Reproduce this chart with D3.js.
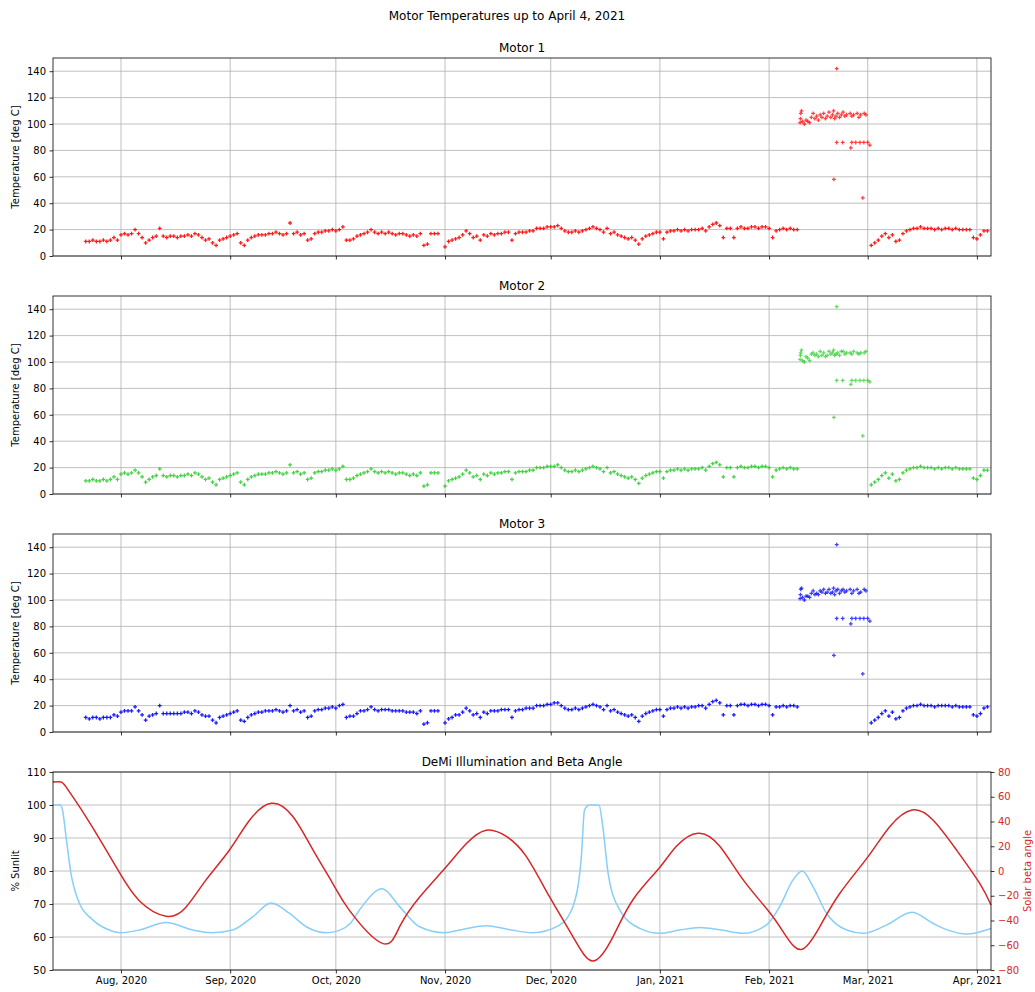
<!DOCTYPE html>
<html>
<head>
<meta charset="utf-8">
<script src="https://cdn.jsdelivr.net/npm/d3@7"></script>
<style>
  body { margin: 0; background: #fff; }
  svg text { font-family: "DejaVu Sans", sans-serif; }
</style>
</head>
<body>
<script>
// day offsets are counted from 2020-07-12 00:00 UTC
const epoch = Date.UTC(2020, 6, 12);
const dayStart = 0.7;
const dayEnd = 267;

// daily samples of the regular (cool) temperatures
const sampleDays = [
  10,11,12,13,14,15,16,17,18,19,20,21,22,23,24,25,26,27,28,29,
  30,31,32,33,34,35,36,37,38,39,40,41,42,43,44,45,46,47,48,49,
  50,51,52,53,54,55,56,57,58,59,60,61,62,63,64,65,66,67,68,69,
  70,71,72,73,74,75,76,77,78,79,80,81,82,83,84,85,86,87,88,89,
  90,91,92,93,94,95,96,97,98,99,100,101,102,103,104,105,106,107,108,109,
  110,111,112,113,114,115,116,117,118,119,120,121,122,123,124,125,126,127,128,129,
  130,131,132,133,134,135,136,137,138,139,140,141,142,143,144,145,146,147,148,149,
  150,151,152,153,154,155,156,157,158,159,160,161,162,163,164,165,166,167,168,169,
  170,171,172,173,174,175,176,177,178,179,180,181,182,183,184,185,186,187,188,189,
  190,191,192,193,194,195,196,197,198,199,200,201,202,203,204,205,206,207,208,209,
  210,211,212,
  233,234,235,236,237,238,239,
  240,241,242,243,244,245,246,247,248,249,250,251,252,253,254,255,256,257,258,259,
  260,261,262,263,264,265,266
];

const motor1Temp = [
  11,11,12,11,11,12,11,12,14,12, 16,17,16,17,20,17,14,10,12,14,
  15,21,15,14,15,15,14,15,15,16, 15,17,16,14,12,13,10,8,12,13,
  14,15,16,17,10,8,12,14,15,16, 16,16,17,17,18,17,16,17,25,17,
  18,16,17,12,13,17,18,18,19,19, 20,19,20,22,12,12,13,15,16,17,
  18,20,18,17,18,17,18,17,16,17, 17,16,15,16,15,17,8,9,17,17,
  17,null,7,11,12,13,14,16,19,17, 14,15,12,16,15,17,16,17,17,18,
  18,12,17,18,18,18,19,19,21,21, 21,22,22,22,23,21,19,18,18,19,
  18,19,20,21,22,21,20,18,21,17, 18,16,15,14,13,14,12,9,13,15,
  16,17,18,18,13,18,19,19,20,19, 20,19,20,20,20,21,19,22,24,25,
  23,14,21,21,14,21,22,21,21,22, 22,21,22,22,21,14,19,20,21,20,
  21,20,20,
  8,10,12,15,17,14,16,
  11,12,17,19,20,21,21,22,21,21, 21,20,21,20,21,21,20,21,20,20,
  20,20,14,13,16,19,19
];

const motor2Temp = [
  10,10,11,10,10,11,10,11,13,11, 15,16,15,16,18,16,13,9,11,13,
  14,19,14,13,14,14,13,14,14,15, 14,16,15,13,11,12,9,7,11,12,
  13,14,15,16,9,7,11,13,14,15, 15,15,16,16,17,16,15,16,22,16,
  17,15,16,11,12,16,17,17,18,18, 19,18,19,21,11,11,12,14,15,16,
  17,19,17,16,17,16,17,16,15,16, 16,15,14,15,14,16,6,7,16,16,
  16,null,6,10,11,12,13,15,18,16, 13,14,11,15,14,16,15,16,16,17,
  17,11,16,17,17,17,18,18,20,20, 20,21,21,21,22,20,18,17,17,18,
  17,18,19,20,21,20,19,17,20,16, 17,15,14,13,12,13,11,8,12,14,
  15,16,17,17,12,17,18,18,19,18, 19,18,19,19,19,20,18,21,23,24,
  22,13,20,20,13,20,21,20,20,21, 21,20,21,21,20,13,18,19,20,19,
  20,19,19,
  7,9,11,14,16,12,15,
  10,11,16,18,19,20,20,21,20,20, 20,19,20,19,20,20,19,20,19,19,
  19,19,12,11,14,18,18
];

const motor3Temp = [
  11,10,11,11,10,11,11,11,13,12, 15,16,16,16,19,16,13,9,12,13,
  14,20,14,14,14,14,14,14,15,15, 14,16,15,13,12,12,9,7,11,12,
  13,14,15,16,9,8,11,13,14,15, 15,16,16,16,17,16,15,16,20,16,
  17,15,16,11,12,16,17,17,18,18, 19,18,20,21,11,12,12,14,16,16,
  17,19,17,16,17,17,17,16,16,16, 16,15,15,15,14,16,6,7,16,16,
  16,null,7,10,11,13,13,15,18,16, 13,14,11,15,14,16,16,16,17,17,
  17,11,16,17,17,18,18,18,20,20, 20,21,21,22,22,20,18,17,17,18,
  17,18,19,20,21,20,19,17,20,16, 17,15,14,13,12,13,11,8,12,14,
  15,16,17,17,12,17,18,18,19,18, 19,18,19,19,20,20,18,21,23,24,
  22,13,20,20,13,20,21,21,20,21, 21,20,21,21,20,13,19,19,20,19,
  20,20,19,
  7,9,11,14,16,12,15,
  10,11,16,18,19,20,20,21,20,20, 20,19,20,20,20,20,19,20,19,19,
  19,19,13,12,14,18,19
];

// the hot period in February 2021
const hotDays = [
  212.8,212.9,213.0,213.2,213.5,214,214.5,215,215.5,216,216.5,217,217.5,218,218.5,219,219.5,220,220.5,
  221,221.5,222,222.3,222.6,223,223.5,224,224.5,225,225.5,226,227,227.5,228,229,229.5,230,231,231.5,
  223.2,224.9,227.2,227.5,228.6,229.8,230.9,232.0,232.6,
  223.2,222.4,230.6
];
const hot1 = [
  101,104,108,110,102,100,103,102,101,105,108,104,106,103,107,105,108,104,106,
  109,105,107,110,104,106,108,105,107,109,106,107,108,106,107,108,105,107,108,107,
  86,86,82,86,86,86,86,86,84,
  142,58,44
];
const hot2 = [
  102,105,107,109,101,100,104,103,101,106,107,105,106,104,108,105,107,104,105,
  108,106,107,109,105,106,107,105,108,108,106,107,107,106,108,107,106,107,107,108,
  86,86,83,86,86,86,86,86,85,
  142,58,44
];
const hot3 = [
  101,104,108,109,102,100,103,103,102,105,107,104,105,104,107,106,108,105,106,
  108,105,106,109,104,107,108,105,107,108,106,107,108,105,107,108,105,106,108,107,
  86,86,82,86,86,86,86,86,84,
  142,58,44
];

// illumination and beta angle
const sunlitDays = [0.7,2.7,3.4,4.4,5.8,8.2,12,16.7,19.8,25.2,32.8,40.4,46,51.7,57.4,62.6,67.8,72.6,78.3,82,85,87.7,94.2,
  99.1,104.8,111.9,117,123.7,130,136.9,144.5,148.3,150.7,151.6,153,155.7,156.8,158.3,161.6,167.3,173,178.6,184.3,190,
  196.6,203.2,207,210.8,213.4,216.5,220.3,226,230.7,237.3,244.6,250.6,255,260,267];
const sunlitPct = [100,100,98.5,90.4,79.3,70.2,65.2,62.1,61.3,62.1,64.4,62.1,61.3,62.1,66.1,70.3,67.2,63.1,61.3,62,64,68.2,74.6,
  69.2,63.1,61.3,62.3,63.4,62.3,61.3,63.6,69.2,84.3,98.5,100,100,93.4,79.3,68.2,62.6,61.1,62.1,62.9,62.2,
  61.1,63.6,69.2,77.3,80,75.2,67.2,62.1,61.1,63.6,67.5,64.1,62,60.9,62.6];

const betaDays = [0.7,3,4.4,8.2,13.9,19.5,25.2,32.8,38.5,44.2,50.8,56.5,62.7,68.8,74.5,80.1,84.9,94.2,99.1,104.8,
  111.9,118,123.7,129.4,135,141.7,148.3,154,159.7,165.4,172.7,177.7,183.8,190,196.6,204,208.9,213.4,218.4,224.1,
  232.1,238.3,244.6,250.6,257.2,263.8,267];
const betaAngle = [72,72,68,52,26,-1,-24,-36.5,-29,-7,17,41,54.7,44,17,-10,-32,-58.5,-45,-21,
  2,22,33,28,12,-21,-53,-72.7,-53,-23,2,20,30.5,20,-7,-33,-53,-63.3,-45,-18,
  11.6,36,49.3,41,17,-10,-27.5];

const tempTicks = [0, 20, 40, 60, 80, 100, 120, 140];
const sunlitTicks = [50, 60, 70, 80, 90, 100, 110];
const betaTicks = [-80, -60, -40, -20, 0, 20, 40, 60, 80];

// ***************************************
//       LAYOUT
// ***************************************
const width = 1035, height = 992;
const left = 53, right = 991;
const panelTops = [58, 296, 534, 772];
const panelH = 198;
const gridColor = "#b0b0b0";

const toDate = d => new Date(epoch + d * 864e5);

const svg = d3.select("body").append("svg")
  .attr("width", width)
  .attr("height", height);

const x = d3.scaleUtc()
  .domain([toDate(dayStart), toDate(dayEnd)])
  .range([left, right]);
const monthTicks = d3.utcMonth.range(toDate(dayStart), toDate(dayEnd));
const fmtMonth = d3.utcFormat("%b, %Y");

svg.append("text")
  .attr("x", 507).attr("y", 20)
  .attr("text-anchor", "middle")
  .style("font-size", "12px")
  .text("Motor Temperatures up to April 4, 2021");

function panelFrame(top, title, showLabels) {
  const g = svg.append("g");
  // vertical grid
  g.selectAll(".vgrid").data(monthTicks).enter().append("line")
    .attr("x1", d => x(d)).attr("x2", d => x(d))
    .attr("y1", top).attr("y2", top + panelH)
    .attr("stroke", gridColor).attr("stroke-width", 0.8);
  const xAxis = d3.axisBottom(x).tickValues(monthTicks)
    .tickSize(3.5).tickPadding(3.5)
    .tickFormat(showLabels ? fmtMonth : "");
  const ax = svg.append("g")
    .attr("transform", `translate(0,${top + panelH})`)
    .call(xAxis);
  ax.select(".domain").remove();
  ax.selectAll("line").attr("stroke", "#000").attr("stroke-width", 0.8);
  ax.selectAll("text").style("font-size", "10px").attr("fill", "#000");
  svg.append("text")
    .attr("x", (left + right) / 2).attr("y", top - 6)
    .attr("text-anchor", "middle")
    .style("font-size", "12px")
    .text(title);
  return g;
}

function leftAxis(top, y, ticks, label) {
  const grid = svg.insert("g", ":first-child");
  grid.selectAll("line").data(ticks).enter().append("line")
    .attr("x1", left).attr("x2", right)
    .attr("y1", d => y(d)).attr("y2", d => y(d))
    .attr("stroke", gridColor).attr("stroke-width", 0.8);
  const ay = svg.append("g")
    .attr("transform", `translate(${left},0)`)
    .call(d3.axisLeft(y).tickValues(ticks).tickSize(3.5).tickPadding(3.5));
  ay.select(".domain").remove();
  ay.selectAll("line").attr("stroke", "#000").attr("stroke-width", 0.8);
  ay.selectAll("text").style("font-size", "10px").attr("fill", "#000");
  svg.append("text")
    .attr("transform", `translate(19,${top + panelH / 2}) rotate(-90)`)
    .attr("text-anchor", "middle")
    .style("font-size", "10px")
    .text(label);
}

function border(top) {
  svg.append("rect")
    .attr("x", left).attr("y", top)
    .attr("width", right - left).attr("height", panelH)
    .attr("fill", "none").attr("stroke", "#000").attr("stroke-width", 0.8);
}

// ***************************************
//       MOTOR PANELS
// ***************************************
const motors = [
  { title: "Motor 1", temps: motor1Temp, hot: hot1, color: "#ff0000" },
  { title: "Motor 2", temps: motor2Temp, hot: hot2, color: "#32cd32" },
  { title: "Motor 3", temps: motor3Temp, hot: hot3, color: "#0000ff" }
];

const marker = d3.symbol().type(d3.symbolCross).size(8);

motors.forEach((m, i) => {
  const top = panelTops[i];
  const y = d3.scaleLinear().domain([0, 150]).range([top + panelH, top]);
  panelFrame(top, m.title, false);
  leftAxis(top, y, tempTicks, "Temperature [deg C]");

  const pts = sampleDays.map((d, k) => ({ d: d, t: m.temps[k] }))
    .concat(hotDays.map((d, k) => ({ d: d, t: m.hot[k], hot: true })))
    .filter(p => p.t != null);

  svg.append("g").selectAll("path").data(pts).enter().append("path")
    .attr("d", marker)
    .attr("transform", p => `translate(${x(toDate(p.d))},${y(p.t)})`)
    .attr("fill", m.color)
    .attr("opacity", p => p.hot ? 0.75 : 0.9);

  border(top);
});

// ***************************************
//       ILLUMINATION AND BETA ANGLE
// ***************************************
const top4 = panelTops[3];
const yS = d3.scaleLinear().domain([50, 110]).range([top4 + panelH, top4]);
const yB = d3.scaleLinear().domain([-80, 80]).range([top4 + panelH, top4]);
panelFrame(top4, "DeMi Illumination and Beta Angle", true);
leftAxis(top4, yS, sunlitTicks, "% Sunlit");

const sunLine = d3.line()
  .x(p => x(toDate(p[0]))).y(p => yS(p[1]))
  .curve(d3.curveMonotoneX);
svg.append("path")
  .datum(sunlitDays.map((d, k) => [d, sunlitPct[k]]))
  .attr("d", sunLine)
  .attr("fill", "none").attr("stroke", "#87cefa").attr("stroke-width", 1.5);

const betaLine = d3.line()
  .x(p => x(toDate(p[0]))).y(p => yB(p[1]))
  .curve(d3.curveNatural);
svg.append("path")
  .datum(betaDays.map((d, k) => [d, betaAngle[k]]))
  .attr("d", betaLine)
  .attr("fill", "none").attr("stroke", "#d62728").attr("stroke-width", 1.5);

const ar = svg.append("g")
  .attr("transform", `translate(${right},0)`)
  .call(d3.axisRight(yB).tickValues(betaTicks).tickSize(3.5).tickPadding(3.5));
ar.select(".domain").remove();
ar.selectAll("line").attr("stroke", "#000").attr("stroke-width", 0.8);
ar.selectAll("text").style("font-size", "10px").attr("fill", "#d62728");
svg.append("text")
  .attr("transform", `translate(1031,${top4 + panelH / 2}) rotate(-90)`)
  .attr("text-anchor", "middle")
  .style("font-size", "10px")
  .attr("fill", "#d62728")
  .text("Solar beta angle");

border(top4);
</script>
</body>
</html>
